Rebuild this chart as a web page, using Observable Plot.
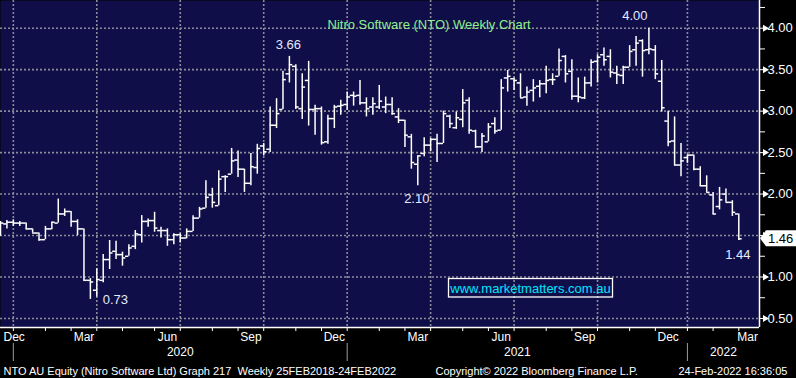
<!DOCTYPE html>
<html><head><meta charset="utf-8">
<script src="https://cdn.jsdelivr.net/npm/d3@7"></script>
<script src="https://cdn.jsdelivr.net/npm/@observablehq/plot@0.6"></script>
<style>html,body{margin:0;padding:0;background:#000;overflow:hidden}svg{display:block}</style>
</head><body><div id="chart"></div>
<script>
// Weekly OHLC, NTO AU, week ending Fridays from 13 Dec 2019 to 25 Feb 2022
const open = [1.66,1.64,1.66,1.65,1.65,1.58,1.53,1.45,1.58,1.65,
 1.76,1.79,1.67,1.58,0.96,0.84,0.96,1.21,1.31,1.27,
 1.25,1.37,1.51,1.67,1.68,1.56,1.56,1.45,1.51,1.47,
 1.55,1.71,1.83,1.99,1.86,2.21,2.24,2.41,2.30,2.13,
 2.32,2.58,2.54,2.83,3.02,3.45,3.54,3.03,3.37,3.02,
 3.03,2.63,2.91,3.06,3.08,3.19,3.19,3.10,3.05,3.05,
 3.05,3.08,2.93,2.89,2.69,2.36,2.49,2.59,2.66,2.61,
 2.94,2.80,2.90,3.13,2.76,2.57,2.63,2.85,2.77,3.40,
 3.39,3.34,3.17,3.25,3.30,3.33,3.38,3.42,3.66,3.48,
 3.18,3.16,3.34,3.60,3.68,3.66,3.46,3.43,3.53,3.74,
 3.85,3.74,3.74,3.36,2.88,2.64,2.35,2.44,2.47,2.30,
 2.10,1.99,1.85,2.00,1.90,1.76];
const high = [1.67,1.68,1.69,1.67,1.65,1.58,1.53,1.61,1.66,1.94,
 1.82,1.79,1.69,1.58,0.98,1.10,1.27,1.44,1.43,1.30,
 1.39,1.56,1.74,1.70,1.78,1.60,1.58,1.52,1.52,1.58,
 1.74,1.84,2.16,2.07,2.28,2.22,2.55,2.52,2.30,2.49,
 2.60,2.61,3.05,3.15,3.48,3.66,3.56,3.45,3.60,3.07,
 3.05,2.95,3.07,3.13,3.23,3.23,3.37,3.16,3.16,3.31,
 3.17,3.16,3.03,2.89,2.72,2.46,2.68,2.67,2.72,3.00,
 2.95,2.99,3.26,3.16,2.77,2.73,2.85,2.92,3.38,3.49,
 3.40,3.45,3.29,3.38,3.37,3.54,3.45,3.75,3.67,3.62,
 3.40,3.41,3.62,3.68,3.76,3.74,3.54,3.54,3.79,3.90,
 3.86,4.00,3.79,3.61,3.00,2.93,2.61,2.47,2.47,2.33,
 2.22,2.02,2.08,2.06,1.92,1.76];
const low = [1.49,1.58,1.61,1.61,1.57,1.53,1.43,1.45,1.57,1.65,
 1.73,1.60,1.50,0.95,0.73,0.76,0.93,1.09,1.21,1.13,
 1.25,1.33,1.41,1.60,1.54,1.47,1.37,1.39,1.41,1.46,
 1.55,1.71,1.83,1.83,1.86,2.02,2.24,2.20,2.02,2.10,
 2.24,2.46,2.50,2.79,3.02,3.34,3.02,2.90,2.82,2.71,
 2.59,2.60,2.79,2.95,3.01,3.06,3.07,2.93,2.95,3.02,
 2.97,2.95,2.85,2.56,2.30,2.10,2.45,2.51,2.38,2.61,
 2.79,2.78,2.80,2.72,2.55,2.50,2.63,2.72,2.77,3.23,
 3.25,3.16,3.06,3.11,3.16,3.21,3.31,3.42,3.34,3.13,
 3.10,3.14,3.29,3.34,3.54,3.40,3.32,3.32,3.53,3.54,
 3.41,3.68,3.38,2.99,2.57,2.34,2.21,2.37,2.28,2.09,
 2.02,1.75,1.81,1.90,1.73,1.44];
const close = [1.65,1.66,1.65,1.65,1.58,1.53,1.45,1.58,1.66,1.76,
 1.79,1.67,1.58,0.96,0.94,0.97,1.21,1.29,1.27,1.23,
 1.35,1.52,1.67,1.68,1.59,1.56,1.45,1.51,1.47,1.55,
 1.71,1.82,1.96,1.90,2.18,2.21,2.40,2.30,2.13,2.33,
 2.55,2.51,2.83,2.97,3.38,3.56,3.05,3.29,3.02,3.03,
 2.62,2.91,3.05,3.07,3.17,3.18,3.10,3.03,3.09,3.12,
 3.08,2.97,2.89,2.71,2.38,2.46,2.59,2.66,2.61,2.97,
 2.85,2.92,3.10,2.77,2.57,2.70,2.81,2.76,3.28,3.42,
 3.37,3.16,3.23,3.28,3.33,3.37,3.38,3.61,3.45,3.18,
 3.17,3.34,3.59,3.65,3.62,3.47,3.44,3.53,3.72,3.82,
 3.73,3.75,3.45,3.04,2.63,2.35,2.40,2.47,2.30,2.10,
 2.02,1.76,1.93,1.90,1.78,1.46];

const priceTicks = [0.5,1,1.5,2,2.5,3,3.5,4];
const minorTicks = [0.75,1.25,1.75,2.25,2.75,3.25,3.75,4.25];
const monthLabels = ["Dec","Mar","Jun","Sep","Dec","Mar","Jun","Sep","Dec","Mar"];
const monthLabelDates = ["2019-12-13","2020-03-13","2020-06-12","2020-09-11","2020-12-11","2021-03-12","2021-06-11","2021-09-10","2021-12-10","2022-03-11"];
const yearLabels = ["2020","2021","2022"];
const annotations = [
  {i: 14, field: "low", label: "0.73"},
  {i: 45, field: "high", label: "3.66"},
  {i: 65, field: "low", label: "2.10"},
  {i: 101, field: "high", label: "4.00"},
  {i: 115, field: "low", label: "1.44"}
];
const titleText = "Nitro Software (NTO) Weekly Chart";
const footerLeft = "NTO AU Equity (Nitro Software Ltd) Graph 217  Weekly 25FEB2018-24FEB2022";
const footerMid = "Copyright\u00a9 2022 Bloomberg Finance L.P.";
const footerRight = "24-Feb-2022 16:36:05";
const website = "www.marketmatters.com.au";

// ---- derived tables ----
const start = new Date(Date.UTC(2019, 11, 13));
const weeks = d3.utcFriday.range(start, new Date(Date.UTC(2022, 1, 26)));
const bars = weeks.map((date, i) => ({date, open: open[i], high: high[i], low: low[i], close: close[i]}));
const xDomain = [start, new Date(Date.UTC(2022, 2, 19, 14))];
const yDomain = [0.391, 4.334];
const monthStarts = d3.utcMonth.range(new Date(Date.UTC(2020, 0, 1)), new Date(Date.UTC(2022, 2, 2)));
const boundary = m => d3.utcFriday.floor(d3.utcDay.offset(m, -1));
const monthTicks = monthStarts.map(boundary);
const quarterLines = monthStarts.filter(m => m.getUTCMonth() % 3 === 0).map(boundary);
const yearLines = monthStarts.filter(m => m.getUTCMonth() === 0).map(boundary);
const yearEdges = [...yearLines, xDomain[1]];
const yearData = yearLabels.map((label, k) => ({label, date: new Date((+yearEdges[k] + +yearEdges[k + 1]) / 2)}));
const monthData = monthLabels.map((label, k) => ({label, date: new Date(monthLabelDates[k] + "T00:00Z")}));
const annData = annotations.map(a => ({label: a.label, date: weeks[a.i], value: bars[a.i][a.field]}));
const last = bars[bars.length - 1];

const NAVY = "#100e48";
const GRID = "#8c8c98";
const FONT = "Liberation Sans, Arial, sans-serif";
const ns = "http://www.w3.org/2000/svg";
const el = (tag, attrs, text) => {
  const e = document.createElementNS(ns, tag);
  for (const k in attrs) e.setAttribute(k, attrs[k]);
  if (text != null) e.textContent = text;
  return e;
};

const hourOff = (d, h) => d3.utcHour.offset(d, h);
const annText = (k, dx, dy, anchor = "middle") => Plot.text([annData[k]], {
  x: "date", y: "value", text: "label", dx, dy, textAnchor: anchor, lineAnchor: "middle",
  fill: "#e4eaff", fontSize: 13
});

const chart = Plot.plot({
  width: 796, height: 378,
  marginLeft: 0, marginRight: 37, marginTop: 0, marginBottom: 51,
  style: {background: "#000", color: "white", fontFamily: FONT, overflow: "visible"},
  x: {type: "utc", domain: xDomain, axis: null},
  y: {domain: yDomain, axis: null},
  marks: [
    Plot.frame({fill: NAVY, stroke: "none"}),
    Plot.ruleY(priceTicks, {stroke: GRID, strokeWidth: 1.6, strokeDasharray: "2,2"}),
    Plot.ruleX(quarterLines, {stroke: GRID, strokeWidth: 1.6, strokeDasharray: "2,2"}),
    // OHLC bars
    Plot.ruleX(bars, {x: "date", y1: "low", y2: "high", stroke: "white", strokeWidth: 1.5}),
    Plot.ruleY(bars, {x1: d => hourOff(d.date, -88), x2: "date", y: "open", stroke: "white", strokeWidth: 1.5}),
    Plot.ruleY(bars, {x1: "date", x2: d => hourOff(d.date, 88), y: "close", stroke: "white", strokeWidth: 1.5}),
    // axis lines
    Plot.ruleY([yDomain[0]], {stroke: "white", strokeWidth: 1.5}),
    Plot.ruleX([xDomain[1]], {stroke: "white", strokeWidth: 1.5}),
    // right price axis
    Plot.axisY({anchor: "right", ticks: minorTicks, tickSize: 5, tickFormat: () => "", stroke: "white"}),
    Plot.axisY({anchor: "right", ticks: priceTicks, tickSize: 5, tickPadding: 3, tickFormat: d3.format(".2f"),
      stroke: "white", fill: "white", fontSize: 13}),
    Plot.dot(priceTicks, {x: () => xDomain[1], y: d => d, symbol: "triangle", rotate: 90, r: 2.6, dx: 5.5, fill: "white", stroke: "none"}),
    // bottom time axis
    Plot.axisX({anchor: "bottom", ticks: monthTicks, tickSize: 4, tickFormat: () => "", stroke: "white"}),
    Plot.axisX({anchor: "bottom", ticks: yearLines, tickSize: 18, dy: 16, tickFormat: () => "", stroke: "#9a9a9a"}),
    Plot.text(monthData.slice(1, -1), {x: "date", text: "label", frameAnchor: "bottom", dy: 10, lineAnchor: "middle", fontSize: 12, fill: "white"}),
    Plot.text(monthData.slice(0, 1), {x: "date", text: "label", frameAnchor: "bottom", dx: 3, dy: 10, textAnchor: "start", lineAnchor: "middle", fontSize: 12, fill: "white"}),
    Plot.text(monthData.slice(-1), {x: "date", text: "label", frameAnchor: "bottom", dx: -4, dy: 10, lineAnchor: "middle", fontSize: 12, fill: "white"}),
    Plot.text(yearData, {x: "date", text: "label", frameAnchor: "bottom", dy: 25, lineAnchor: "middle", fontSize: 12, fill: "white"}),
    Plot.text([footerLeft], {frameAnchor: "bottom-left", dx: 3, dy: 44, textAnchor: "start", lineAnchor: "middle", fontSize: 11, fill: "white"}),
    Plot.text([footerMid], {frameAnchor: "bottom-left", dx: 435, dy: 44, textAnchor: "start", lineAnchor: "middle", fontSize: 11, fill: "white"}),
    Plot.text([footerRight], {frameAnchor: "bottom-left", dx: 678, dy: 44, textAnchor: "start", lineAnchor: "middle", fontSize: 11, fill: "white"}),
    // title
    Plot.text([titleText], {frameAnchor: "top-left", dx: 327, dy: 24, textAnchor: "start", lineAnchor: "middle", fontSize: 13, fill: "#8cf08c"}),
    // annotations
    annText(0, 25, 0),
    annText(1, -1, -12),
    annText(2, -1, 13),
    annText(3, -14, -12),
    annText(4, -1, 14),
    // last price tag (covers the 1.50 axis label, as in the reference)
    (index, scales, values, dims) => {
      const y = scales.y(last.close);
      const x0 = dims.width - dims.marginRight + 1;
      const g = el("g", {});
      g.appendChild(el("path", {d: `M${x0},${y} L${x0 + 6},${y - 8} H${dims.width} V${y + 8} H${x0 + 6} Z`, fill: "white"}));
      g.appendChild(el("text", {x: x0 + 8, y, "text-anchor": "start", "dominant-baseline": "central", fill: "#000", "font-size": 13, "font-family": FONT}, d3.format(".2f")(last.close)));
      return g;
    },
    // website box
    (index, scales, values, dims) => {
      const g = el("g", {});
      g.appendChild(el("rect", {x: 448.5, y: 278.5, width: 164, height: 18.5, fill: "none", stroke: "white", "stroke-width": 1.3}));
      g.appendChild(el("text", {x: 530.5, y: 288, "text-anchor": "middle", "dominant-baseline": "central", fill: "#00e4ff", "font-size": 13, "font-family": FONT}, website));
      return g;
    }
  ]
});
// the tag hides the 1.50 label in the reference: drop that label so texts don't overlap
d3.select(chart).selectAll("text").filter(function() { return this.textContent === "1.50"; }).remove();
document.getElementById("chart").appendChild(chart);
</script>
</body></html>
